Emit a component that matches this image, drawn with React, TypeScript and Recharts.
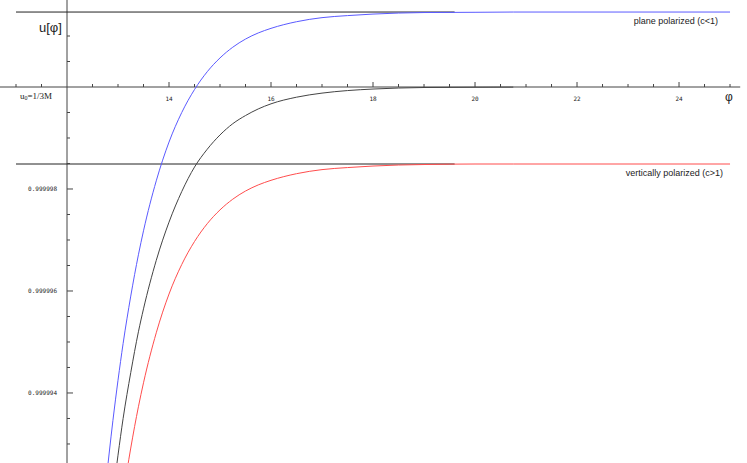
import React from "react";
import { LineChart, Line, XAxis, YAxis, ReferenceLine, ReferenceDot } from "recharts";

// phi values where the curves were sampled
const phi = [
  12.75, 12.9, 13.0, 13.1, 13.25, 13.4, 13.5, 13.75, 14.0, 14.25, 14.5, 14.75, 15.0,
  15.25, 15.5, 15.75, 16.0, 16.5, 17.0, 17.5, 18.0, 18.5, 19.0, 20.0, 20.75, 22.0, 25.0,
];

// plane polarized (c<1), blue
const planePolarized = [
  0.99999211, 0.99999346, 0.99999425, 0.99999497, 0.9999959, 0.99999671, 0.99999718,
  0.99999816, 0.99999892, 0.9999995, 0.99999995, 1.0000003, 1.00000057, 1.00000078,
  1.00000094, 1.00000106, 1.00000115, 1.00000128, 1.00000136, 1.0000014, 1.00000143,
  1.00000145, 1.00000146, 1.000001465, 1.00000147, 1.00000147, 1.00000147,
];

// u0 = 1/3M curve, black
const unpolarized = [
  0.99999064, 0.99999199, 0.99999278, 0.9999935, 0.9999944, 0.9999952, 0.99999565,
  0.9999966, 0.99999735, 0.99999795, 0.99999843, 0.99999878, 0.99999906, 0.99999928,
  0.99999944, 0.99999957, 0.99999967, 0.9999998, 0.99999988, 0.99999993, 0.99999996,
  0.99999998, 0.99999999, 0.999999995, 0.999999998, null, null,
];

// vertically polarized (c>1), red
const verticallyPolarized = [
  0.99998913, 0.99999048, 0.99999127, 0.99999199, 0.99999292, 0.99999373, 0.9999942,
  0.99999518, 0.99999594, 0.99999652, 0.99999697, 0.99999732, 0.99999759, 0.9999978,
  0.99999796, 0.99999808, 0.99999817, 0.9999983, 0.99999838, 0.99999842, 0.99999845,
  0.99999847, 0.99999848, 0.99999849, 0.99999849, 0.99999849, 0.99999849,
];

const asymptotes = [1.00000147, 0.99999849];

const xTicks = [
  11, 11.5, 12.5, 13, 13.5, 14, 14.5, 15, 15.5, 16, 16.5, 17, 17.5, 18, 18.5, 19, 19.5,
  20, 20.5, 21, 21.5, 22, 22.5, 23, 23.5, 24, 24.5, 25,
];
const xLabels = [14, 16, 18, 20, 22, 24];

const yTicks = [
  1.000001, 1.0000005, 0.9999995, 0.999999, 0.9999985, 0.999998, 0.9999975, 0.999997,
  0.9999965, 0.999996, 0.9999955, 0.999995, 0.9999945, 0.999994, 0.9999935, 0.999993,
];
const yLabels = [0.999998, 0.999996, 0.999994];

const data = phi.map((p, i) => ({
  phi: p,
  plane: planePolarized[i],
  mid: unpolarized[i],
  vertical: verticallyPolarized[i],
}));

const AXIS = "#444";
const PX_X = 1 / 51; // one pixel in phi units
const PX_Y = 1e-6 / 51; // one pixel in u units

export default function App() {
  return (
    <div style={{ position: "absolute", left: 0, top: 0, width: 747, height: 463, background: "#fff" }}>
      <LineChart width={747} height={463} data={data} margin={{ top: 0, right: 0, bottom: 0, left: 0 }}>
        <XAxis type="number" dataKey="phi" domain={[10.686, 25.333]} allowDataOverflow hide />
        <YAxis type="number" domain={[0.999992627, 1.000001706]} allowDataOverflow hide />

        {/* axes */}
        <ReferenceLine segment={[{ x: 10.686, y: 1 }, { x: 25.2, y: 1 }]} stroke={AXIS} />
        <ReferenceLine x={12} stroke={AXIS} />

        {/* asymptotes */}
        {asymptotes.map((a) => (
          <ReferenceLine key={"as" + a} segment={[{ x: 11, y: a }, { x: 19.6, y: a }]} stroke="#222" />
        ))}

        {xTicks.map((t) => (
          <ReferenceLine
            key={"xt" + t}
            segment={[
              { x: t, y: 1 },
              { x: t, y: 1 + (xLabels.includes(t) ? 5 : 3) * PX_Y },
            ]}
            stroke={AXIS}
          />
        ))}
        {yTicks.map((t) => (
          <ReferenceLine
            key={"yt" + t}
            segment={[
              { x: 12, y: t },
              { x: 12 + (yLabels.includes(t) ? 6 : 3) * PX_X, y: t },
            ]}
            stroke={AXIS}
          />
        ))}

        {xLabels.map((t) => (
          <ReferenceDot
            key={"xl" + t}
            x={t}
            y={1}
            r={0}
            fill="none"
            stroke="none"
            label={{ value: String(t), position: "bottom", offset: 10, fontSize: 6, fontFamily: "DejaVu Sans Mono", fill: "#222" }}
          />
        ))}
        {yLabels.map((t) => (
          <ReferenceDot
            key={"yl" + t}
            x={12}
            y={t}
            r={0}
            fill="none"
            stroke="none"
            label={{ value: t.toFixed(6), position: "left", offset: 10, fontSize: 6, fontFamily: "DejaVu Sans Mono", fill: "#222" }}
          />
        ))}

        <Line type="monotone" dataKey="plane" stroke="#5a5aff" strokeWidth={1} dot={false} isAnimationActive={false} />
        <Line type="monotone" dataKey="mid" stroke="#444" strokeWidth={1} dot={false} isAnimationActive={false} />
        <Line type="monotone" dataKey="vertical" stroke="#ff4d4d" strokeWidth={1} dot={false} isAnimationActive={false} />
      </LineChart>

      <svg width={747} height={463} style={{ position: "absolute", left: 0, top: 0, pointerEvents: "none" }}>
        <text x={39} y={32} fontSize={13} fontFamily="Liberation Sans" fill="#222">u[φ]</text>
        <text x={20} y={99} fontSize={9} fontFamily="Liberation Serif" fill="#222">
          u<tspan fontSize={6} dy={1}>0</tspan><tspan dy={-1}>=1/3M</tspan>
        </text>
        <text x={725} y={101} fontSize={12} fontFamily="Liberation Sans" fill="#222">φ</text>
        <text x={718} y={24} fontSize={9} fontFamily="Liberation Sans" textAnchor="end" fill="#222">plane polarized (c&lt;1)</text>
        <text x={723} y={176} fontSize={9} fontFamily="Liberation Sans" textAnchor="end" fill="#222">vertically polarized (c&gt;1)</text>
      </svg>
    </div>
  );
}
